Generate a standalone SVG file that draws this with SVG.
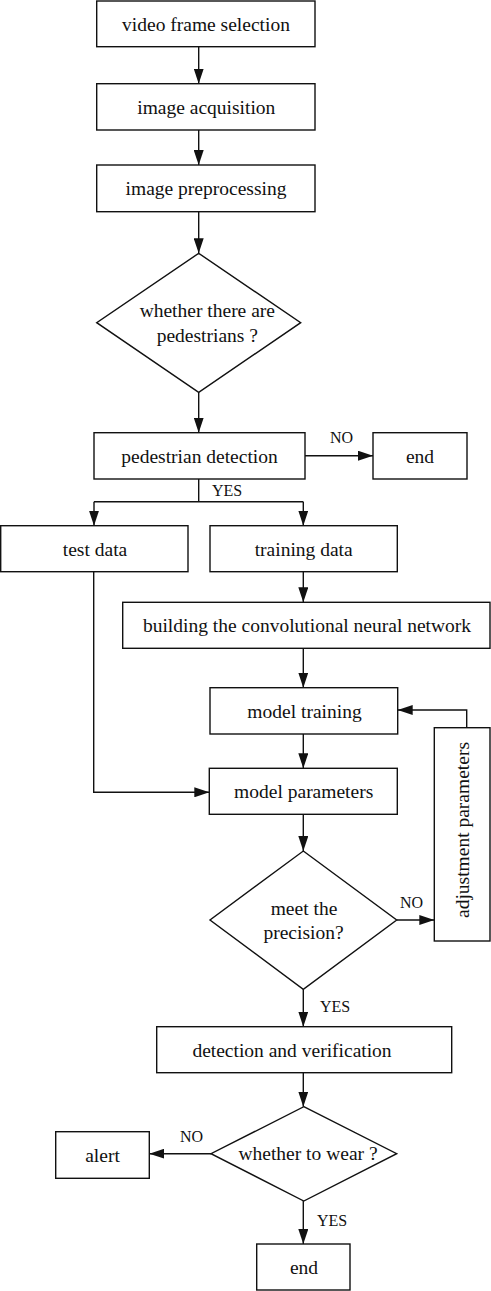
<svg xmlns="http://www.w3.org/2000/svg" width="491" height="1291" viewBox="0 0 491 1291">
<style>
.n rect, .n polygon { fill: #fff; stroke: #111; stroke-width: 1.4; }
.n text { font-family: "Liberation Serif", "Times New Roman", serif; font-size: 19.5px; fill: #111; text-anchor: middle; }
.c line, .c polyline { fill: none; stroke: #111; stroke-width: 1.4; }
.lbl { font-family: "Liberation Serif", "Times New Roman", serif; font-size: 16px; fill: #111; }
</style>
<defs>
<marker id="ah" markerUnits="userSpaceOnUse" markerWidth="16" markerHeight="10" refX="15" refY="5" orient="auto">
<path d="M0,0 L15,5 L0,10 Z" fill="#111"/>
</marker>
</defs>
<rect width="491" height="1291" fill="#fff"/>

<g class="c" id="connectors">
<line x1="198.7" y1="46.7" x2="198.7" y2="83.7" marker-end="url(#ah)"/>
<line x1="198.7" y1="130" x2="198.7" y2="165" marker-end="url(#ah)"/>
<line x1="198.7" y1="211.7" x2="198.7" y2="253.3" marker-end="url(#ah)"/>
<line x1="198.7" y1="392.3" x2="198.7" y2="432.7" marker-end="url(#ah)"/>
<line x1="305" y1="455.7" x2="373" y2="455.7" marker-end="url(#ah)"/>
<line x1="198.7" y1="479" x2="198.7" y2="501.7"/>
<line x1="94" y1="501.7" x2="303.3" y2="501.7"/>
<line x1="94" y1="501.7" x2="94" y2="525.7" marker-end="url(#ah)"/>
<line x1="303.3" y1="501.7" x2="303.3" y2="525.7" marker-end="url(#ah)"/>
<line x1="303.3" y1="571.7" x2="303.3" y2="602.3" marker-end="url(#ah)"/>
<line x1="303.3" y1="648.3" x2="303.3" y2="687.7" marker-end="url(#ah)"/>
<line x1="303.3" y1="734" x2="303.3" y2="768.3" marker-end="url(#ah)"/>
<polyline points="93.7,571.7 93.7,792.3 209.3,792.3" marker-end="url(#ah)"/>
<line x1="303.3" y1="814.3" x2="303.3" y2="851" marker-end="url(#ah)"/>
<line x1="396.7" y1="920" x2="434.3" y2="920" marker-end="url(#ah)"/>
<polyline points="466.7,727.7 466.7,710 397.7,710" marker-end="url(#ah)"/>
<line x1="303.3" y1="989.3" x2="303.3" y2="1026.7" marker-end="url(#ah)"/>
<line x1="303.3" y1="1072.7" x2="303.3" y2="1106.7" marker-end="url(#ah)"/>
<line x1="211" y1="1153.7" x2="149.3" y2="1153.7" marker-end="url(#ah)"/>
<line x1="303.3" y1="1201" x2="303.3" y2="1244" marker-end="url(#ah)"/>
<text class="lbl" x="330" y="443">NO</text>
<text class="lbl" x="212" y="496">YES</text>
<text class="lbl" x="400" y="908">NO</text>
<text class="lbl" x="320" y="1012">YES</text>
<text class="lbl" x="180" y="1142">NO</text>
<text class="lbl" x="317" y="1226">YES</text>
</g>

<g class="n" id="n1"><rect x="96.7" y="1" width="218.3" height="45.7"/><text x="206" y="30.8">video frame selection</text></g>
<g class="n" id="n2"><rect x="96.7" y="83.7" width="218.3" height="46.3"/><text x="206.3" y="113.8">image acquisition</text></g>
<g class="n" id="n3"><rect x="96.7" y="165" width="218.3" height="46.7"/><text x="206" y="195.3">image preprocessing</text></g>
<g class="n" id="n4"><polygon points="198.7,253.3 300.7,322.7 198.7,392.3 96.7,322.7"/><text x="207.3" y="317">whether there are</text><text x="207.3" y="341.5">pedestrians ?</text></g>
<g class="n" id="n5"><rect x="94" y="432.7" width="211" height="46.3"/><text x="199.5" y="462.8">pedestrian detection</text></g>
<g class="n" id="n6"><rect x="373" y="432.7" width="94" height="46.3"/><text x="420" y="462.8">end</text></g>
<g class="n" id="n7"><rect x="0.7" y="525.7" width="187.3" height="46"/><text x="95" y="555.7">test data</text></g>
<g class="n" id="n8"><rect x="210" y="525.7" width="187.3" height="46"/><text x="303.7" y="555.7">training data</text></g>
<g class="n" id="n9"><rect x="122.7" y="602.3" width="367.3" height="46"/><text x="307" y="632.3">building the convolutional neural network</text></g>
<g class="n" id="n10"><rect x="210" y="687.7" width="187.7" height="46.3"/><text x="304.5" y="717.8">model training</text></g>
<g class="n" id="n11"><rect x="209.3" y="768.3" width="188" height="46"/><text x="303.7" y="798.3">model parameters</text></g>
<g class="n" id="n12"><polygon points="303.3,851 396.7,920 303.3,989.3 210,920"/><text x="304" y="915">meet the</text><text x="303.5" y="939.3">precision?</text></g>
<g class="n" id="n13"><rect x="434.3" y="727.7" width="55.7" height="213.3"/><text x="468.5" y="830" transform="rotate(-90 468.5 830)">adjustment parameters</text></g>
<g class="n" id="n14"><rect x="156.7" y="1026.7" width="295" height="46"/><text x="292" y="1056.7">detection and verification</text></g>
<g class="n" id="n15"><polygon points="303.8,1106.7 396.7,1153.7 303.8,1201 211,1153.7"/><text x="308" y="1160">whether to wear ?</text></g>
<g class="n" id="n16"><rect x="55.7" y="1131.7" width="93.6" height="46.6"/><text x="102.5" y="1161.5">alert</text></g>
<g class="n" id="n17"><rect x="256.7" y="1244" width="93.3" height="46"/><text x="304" y="1273.5">end</text></g>
</svg>
